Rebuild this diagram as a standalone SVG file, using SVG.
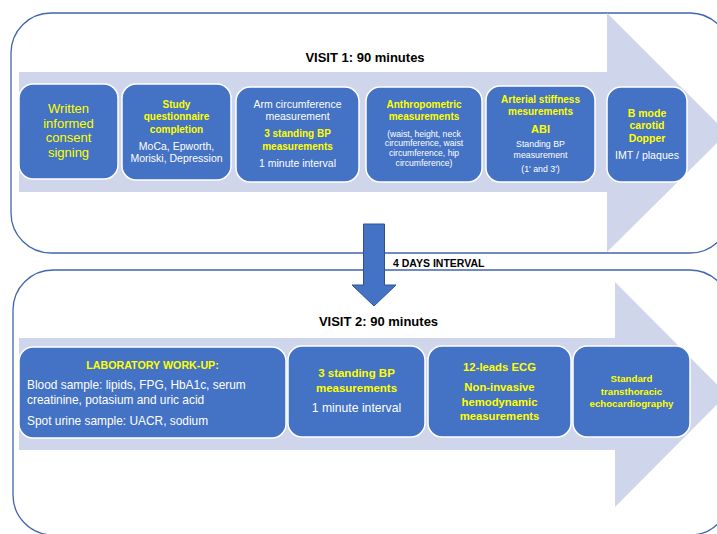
<svg xmlns="http://www.w3.org/2000/svg" width="717" height="534" viewBox="0 0 717 534">
<style>
.frame{fill:none;stroke:#3F67AE;stroke-width:1.3}
.band{fill:#CFD5EA}
.box{fill:#4472C4;stroke:#FFFFFF;stroke-width:1.5}
text{font-family:"Liberation Sans",Arial,sans-serif;text-anchor:middle}
.y{fill:#FFFF00}
.w{fill:#FFFFFF}
.b{font-weight:bold}
.title{font-weight:bold;font-size:13px;fill:#000000}
.left{text-anchor:start}
</style>
<rect width="717" height="534" fill="#FFFFFF"/>
<g id="background">
  <rect class="frame" x="11" y="13" width="719" height="240" rx="40" ry="40"/>
  <path class="band" d="M19,72 H607 V13 L727,133 L607,252 V192 H19 Z"/>
  <rect class="frame" x="13" y="270" width="717" height="265" rx="40" ry="40"/>
  <path class="band" d="M19,338 H615 V282 L727,394.5 L615,507 V450 H19 Z"/>
</g>
<text class="title" x="365" y="62">VISIT 1: 90 minutes</text>
<text class="title" x="378.5" y="326">VISIT 2: 90 minutes</text>

<g id="consent">
  <rect class="box" x="19" y="84" width="99" height="95" rx="14"/>
  <g class="y" font-size="13">
    <text x="68.5" y="113">Written</text>
    <text x="68.5" y="127.5">informed</text>
    <text x="68.5" y="142">consent</text>
    <text x="68.5" y="156.5">signing</text>
  </g>
</g>
<g id="questionnaire">
  <rect class="box" x="122" y="84" width="109" height="96" rx="14"/>
  <g class="y b" font-size="10">
    <text x="176.5" y="108">Study</text>
    <text x="176.5" y="120">questionnaire</text>
    <text x="176.5" y="132.5">completion</text>
  </g>
  <g class="w" font-size="10.5">
    <text x="176.5" y="150">MoCa, Epworth,</text>
    <text x="176.5" y="162">Moriski, Depression</text>
  </g>
</g>
<g id="arm">
  <rect class="box" x="236" y="87" width="123" height="95" rx="14"/>
  <g class="w" font-size="10.5">
    <text x="297.5" y="108">Arm circumference</text>
    <text x="297.5" y="120">measurement</text>
    <text x="297.5" y="167">1 minute interval</text>
  </g>
  <g class="y b" font-size="10">
    <text x="297.5" y="137">3 standing BP</text>
    <text x="297.5" y="150">measurements</text>
  </g>
</g>
<g id="anthropometric">
  <rect class="box" x="366" y="87" width="116" height="95" rx="14"/>
  <g class="y b" font-size="10">
    <text x="424" y="108">Anthropometric</text>
    <text x="424" y="120">measurements</text>
  </g>
  <g class="w" font-size="8.6">
    <text x="424" y="136.5">(waist, height, neck</text>
    <text x="424" y="146">circumference, waist</text>
    <text x="424" y="156">circumference, hip</text>
    <text x="424" y="166">circumference)</text>
  </g>
</g>
<g id="arterial">
  <rect class="box" x="486" y="86" width="109" height="96" rx="14"/>
  <g class="y b" font-size="10">
    <text x="540.5" y="103">Arterial stiffness</text>
    <text x="540.5" y="115">mesurements</text>
  </g>
  <text class="y b" font-size="11" x="540.5" y="133">ABI</text>
  <g class="w" font-size="8.8">
    <text x="540.5" y="147">Standing BP</text>
    <text x="540.5" y="158">measurement</text>
    <text x="540.5" y="172">(1' and 3')</text>
  </g>
</g>
<g id="carotid">
  <rect class="box" x="607" y="87" width="80" height="95" rx="14"/>
  <g class="y b" font-size="10.5">
    <text x="647" y="117">B mode</text>
    <text x="647" y="129">carotid</text>
    <text x="647" y="142">Dopper</text>
  </g>
  <text class="w" font-size="10.6" x="647" y="159">IMT / plaques</text>
</g>

<g id="laboratory">
  <rect class="box" x="19" y="347" width="267" height="91" rx="14"/>
  <text class="y b" font-size="10.7" x="152.5" y="369">LABORATORY WORK-UP:</text>
  <g class="w left" font-size="11.9">
    <text class="left" x="27" y="389">Blood sample: lipids, FPG, HbA1c, serum</text>
    <text class="left" x="27" y="404">creatinine, potasium and uric acid</text>
    <text class="left" x="27" y="424.5">Spot urine sample: UACR, sodium</text>
  </g>
</g>
<g id="standingbp">
  <rect class="box" x="288" y="346" width="137" height="91" rx="14"/>
  <g class="y b" font-size="11.5">
    <text x="356.5" y="377">3 standing BP</text>
    <text x="356.5" y="392">measurements</text>
  </g>
  <text class="w" font-size="12.2" x="356.5" y="412">1 minute interval</text>
</g>
<g id="ecg">
  <rect class="box" x="428" y="346" width="143" height="91" rx="14"/>
  <g class="y b" font-size="11.3">
    <text x="499.5" y="370.5">12-leads ECG</text>
    <text x="499.5" y="390.5">Non-invasive</text>
    <text x="499.5" y="405.5">hemodynamic</text>
    <text x="499.5" y="420">measurements</text>
  </g>
</g>
<g id="echo">
  <rect class="box" x="573" y="346" width="117" height="91" rx="14"/>
  <g class="y b" font-size="9.7">
    <text x="631.5" y="382">Standard</text>
    <text x="631.5" y="394.5">transthoracic</text>
    <text x="631.5" y="406.5">echocardiography</text>
  </g>
</g>

<g id="connectors">
  <path d="M363.5,224 H384.5 V285 H396 L374,306 L352,285 H363.5 Z" fill="#4472C4" stroke="#2F528F" stroke-width="1"/>
  <text class="b left" font-size="10.5" x="393" y="267" fill="#000000">4 DAYS INTERVAL</text>
</g>
</svg>
